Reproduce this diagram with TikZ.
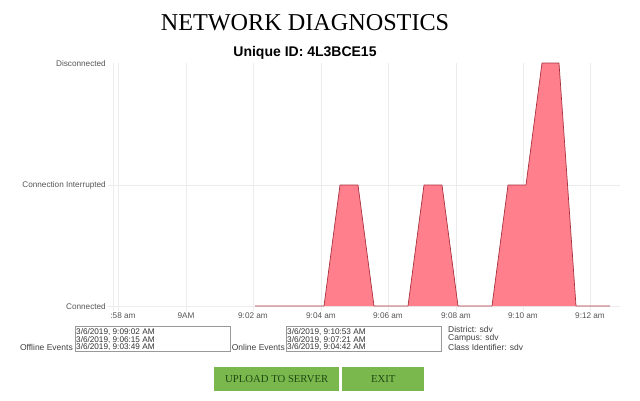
\documentclass[tikz,border=0pt]{standalone}
\usepackage{fontspec}
\setmainfont{Liberation Serif}
\newfontfamily\chartfont{Liberation Sans}
\usepackage{tikz}
\definecolor{gridgray}{HTML}{ECECEC}
\definecolor{areared}{HTML}{FF808C}
\definecolor{areadark}{HTML}{A8303F}
\definecolor{btngreen}{HTML}{7AB84E}
\definecolor{btntext}{HTML}{1F4A12}
\definecolor{labelgray}{HTML}{555555}
\tikzset{
    axislabel/.style={font=\chartfont\fontsize{8.2}{9}\selectfont,text=labelgray,inner sep=0pt},
    infolabel/.style={font=\chartfont\fontsize{8.5}{9}\selectfont,text=black!75,inner sep=0pt,anchor=west},
    eventbox/.style={draw=black!40,line width=0.8pt,fill=white,minimum width=155pt,minimum height=25pt,inner sep=0pt,anchor=north west},
    eventtext/.style={font=\chartfont\fontsize{8.2}{7.9}\selectfont,text=black!80,align=left,inner sep=0pt,anchor=north west},
    btn/.style={fill=btngreen,minimum height=24pt,inner sep=0pt,anchor=north west,font=\fontsize{10.7}{12}\selectfont,text=btntext}
}
\begin{document}
\begin{tikzpicture}[x=1pt,y=-1pt]
    % 固定画面大小
    \useasboundingbox (0,0) rectangle (640,400);

    % 标题
    \node[font=\fontsize{24.2}{28}\selectfont,inner sep=0pt] (title) at (305,23) {NETWORK DIAGNOSTICS};
    \node[font=\chartfont\bfseries\fontsize{14}{17}\selectfont,inner sep=0pt] (uid) at (305,53) {Unique ID: 4L3BCE15};

    % 网格线
    \foreach \x in {113,118,186,253,321,388,456,523,590}
        \draw[gridgray,line width=0.8pt] (\x,63) -- (\x,311);
    \draw[gridgray,line width=0.8pt] (108,185) -- (620,185);
    \draw[gridgray,line width=0.8pt] (108,306) -- (620,306);

    % 数据区域
    \fill[areared] (324,306) -- (340,185) -- (358,185) -- (374,306) -- cycle;
    \fill[areared] (408,306) -- (424,185) -- (442,185) -- (458,306) -- cycle;
    \fill[areared] (492,306) -- (508,185) -- (526,185) -- (542,63) -- (559,63) -- (576,306) -- cycle;
    \draw[areadark,line width=0.7pt,line join=round]
        (255,306) -- (324,306) -- (340,185) -- (358,185) -- (374,306) --
        (408,306) -- (424,185) -- (442,185) -- (458,306) --
        (492,306) -- (508,185) -- (526,185) -- (542,63) -- (559,63) -- (576,306) -- (610,306);

    % 纵轴标签
    \node[axislabel,anchor=east] (ydisc) at (106,63.5) {Disconnected};
    \node[axislabel,anchor=east] (yint) at (106,185.5) {Connection Interrupted};
    \node[axislabel,anchor=east] (yconn) at (106,306.5) {Connected};

    % 横轴标签
    \node[axislabel] (t0) at (123,316) {:58 am};
    \node[axislabel] (t1) at (186,316) {9AM};
    \node[axislabel] (t2) at (253,316) {9:02 am};
    \node[axislabel] (t3) at (321,316) {9:04 am};
    \node[axislabel] (t4) at (388,316) {9:06 am};
    \node[axislabel] (t5) at (456,316) {9:08 am};
    \node[axislabel] (t6) at (523,316) {9:10 am};
    \node[axislabel] (t7) at (590,316) {9:12 am};

    % 事件框
    \node[eventbox] (offbox) at (75,326) {};
    \node[eventtext] (offtext) at (76,328) {3/6/2019, 9:09:02 AM\\3/6/2019, 9:06:15 AM\\3/6/2019, 9:03:49 AM};
    \node[infolabel,anchor=east] (offlabel) at (73,347.5) {Offline Events};
    \node[eventbox] (onbox) at (286,326) {};
    \node[eventtext] (ontext) at (287,328) {3/6/2019, 9:10:53 AM\\3/6/2019, 9:07:21 AM\\3/6/2019, 9:04:42 AM};
    \node[infolabel,anchor=east] (onlabel) at (285,347.5) {Online Events};

    % 右侧信息
    \node[infolabel] (district) at (448,329.5) {District: sdv};
    \node[infolabel] (campus) at (448,338.5) {Campus: sdv};
    \node[infolabel] (classid) at (448,347.5) {Class Identifier: sdv};

    % 按钮
    \node[btn,minimum width=125pt] (upload) at (214,367) {UPLOAD TO SERVER};
    \node[btn,minimum width=82pt] (exit) at (342,367) {EXIT};
\end{tikzpicture}
\end{document}
